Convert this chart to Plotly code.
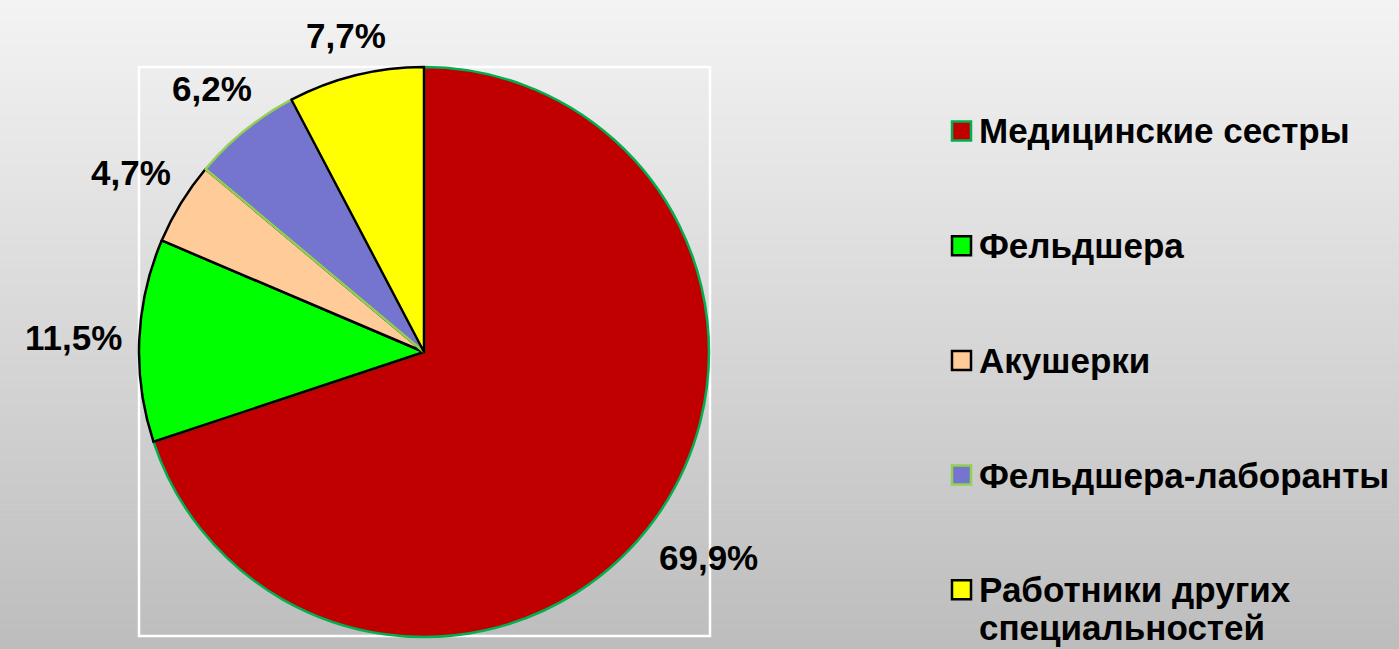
import math
import plotly.graph_objects as go

# ---- data ----
categories = ["Медицинские сестры", "Фельдшера", "Акушерки",
              "Фельдшера-лаборанты", "Работники других специальностей"]
legend_labels = ["Медицинские сестры", "Фельдшера", "Акушерки",
                 "Фельдшера-лаборанты", "Работники других<br>специальностей"]
values = [69.9, 11.5, 4.7, 6.2, 7.7]
pct_labels = ["69,9%", "11,5%", "4,7%", "6,2%", "7,7%"]

# ---- styles ----
fill_colors = ["#C00000", "#00FF00", "#FFCC99", "#7575D0", "#FFFF00"]
line_colors = ["#00B050", "#000000", "#000000", "#92D050", "#000000"]

W, H = 1399, 649
CX, CY, R = 424, 352, 285  # pixel geometry of the pie

def px(x):
    return x / W

def py(y):
    return 1 - y / H

fig = go.Figure()
fig.add_trace(go.Pie(
    labels=categories, values=values, sort=False, direction="clockwise",
    rotation=0, textinfo="none", hoverinfo="label+percent",
    marker=dict(colors=fill_colors, line=dict(color=line_colors, width=2.5)),
    domain=dict(x=[px(CX - R), px(CX + R)], y=[py(CY + R), py(CY - R)]),
    showlegend=False,
))

shapes = []
# background vertical gradient made of stripes
n = 130
for i in range(n):
    t = i / (n - 1)
    c = round(243 - (243 - 189) * t)
    shapes.append(dict(type="rect", xref="paper", yref="paper", layer="below",
                       x0=0, x1=1, y0=1 - (i + 1) / n - 0.001, y1=1 - i / n,
                       line=dict(width=0), fillcolor=f"rgb({c},{c},{c})"))
# white frame
shapes.append(dict(type="rect", xref="paper", yref="paper", layer="below",
                   x0=px(139), x1=px(710), y0=py(636), y1=py(67),
                   line=dict(color="white", width=2.5), fillcolor="rgba(0,0,0,0)"))

annotations = []
# percentage labels, placed outside each slice along its mid-angle
char_w = {"%": 0.889, ",": 0.278}
fs = 35
total = sum(values)
cum = 0
for v, lab in zip(values, pct_labels):
    mid = (cum + v / 2) / total * 2 * math.pi
    cum += v
    sx, cy = math.sin(mid), math.cos(mid)
    w = sum(char_w.get(ch, 0.556) for ch in lab) * fs
    h = 0.9 * fs
    r = R + 16 + abs(sx) * w / 2 + abs(cy) * h / 2
    x = CX + r * sx
    y = CY - r * cy
    annotations.append(dict(x=px(x), y=py(y), xref="paper", yref="paper",
                            text=lab, showarrow=False, xanchor="center", yanchor="middle",
                            font=dict(family="Liberation Sans, Arial", size=fs,
                                      color="black", weight=700)))

# manual legend
leg_x = 952
leg_y0, leg_dy = 131, 114.7
sq = 19
line_h = 42
for i, (lab, fc, lc) in enumerate(zip(legend_labels, fill_colors, line_colors)):
    yc = leg_y0 + i * leg_dy
    shapes.append(dict(type="rect", xref="paper", yref="paper",
                       x0=px(leg_x), x1=px(leg_x + sq), y0=py(yc + sq / 2), y1=py(yc - sq / 2),
                       line=dict(color=lc, width=2.5), fillcolor=fc))
    for j, part in enumerate(lab.split("<br>")):
        ypos = yc + j * line_h
        anchor = "middle"
        if j > 0:
            ypos = min(ypos + 22, H)
            anchor = "bottom"
        annotations.append(dict(x=px(977), y=py(ypos), xref="paper", yref="paper",
                                text=part, showarrow=False, xanchor="left",
                                yanchor=anchor, align="left",
                                font=dict(family="Liberation Sans, Arial", size=35,
                                          color="black", weight=700)))

fig.update_layout(
    width=W, height=H, margin=dict(l=0, r=0, t=0, b=0),
    paper_bgcolor="#dcdcdc", plot_bgcolor="#dcdcdc",
    shapes=shapes, annotations=annotations, showlegend=False,
)

fig.write_html("out.html", config={"displayModeBar": False},
               post_script="document.body.style.margin='0';document.body.style.overflow='hidden';")
